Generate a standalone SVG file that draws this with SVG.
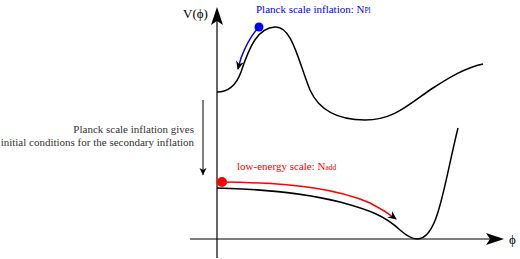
<svg xmlns="http://www.w3.org/2000/svg" width="520" height="259" viewBox="0 0 520 259">
<style>
text{font-family:"Liberation Serif","Times New Roman","DejaVu Serif",serif;}
.curve{fill:none;stroke:#000;stroke-width:1.5;}
.axis{fill:none;stroke:#000;stroke-width:1.2;}
</style>
<defs>
<marker id="redhead" markerWidth="10" markerHeight="8" refX="8" refY="4" orient="auto" markerUnits="userSpaceOnUse">
<path d="M0,0 L9,4 L0,8 L3,4 Z" fill="#000"/>
</marker>
<marker id="bluehead" markerWidth="10" markerHeight="8" refX="8" refY="4" orient="auto" markerUnits="userSpaceOnUse">
<path d="M0,0 L9,4 L0,8 L3,4 Z" fill="#000"/>
</marker>
<marker id="smallhead" markerWidth="8" markerHeight="8" refX="7" refY="4" orient="auto" markerUnits="userSpaceOnUse">
<path d="M0,0.5 L7,4 L0,7.5 L2,4 Z" fill="#000"/>
</marker>
</defs>
<g id="connectors">
<g id="v-axis">
<line class="axis" x1="217" y1="258" x2="217" y2="18"/>
<path d="M217,7 L223,25 L217,21 L211,25 Z" fill="#000"/>
</g>
<g id="h-axis">
<line class="axis" x1="190" y1="239" x2="494" y2="239"/>
<path d="M504,239 L486,233 L490,239 L486,245 Z" fill="#000"/>
</g>
<line x1="203" y1="100" x2="203" y2="175" stroke="#000" stroke-width="1" marker-end="url(#smallhead)"/>
<path d="M258,28 C249,38 244,50 241,58 C240,62 239,65 238,69" fill="none" stroke="#0000ff" stroke-width="1.5" marker-end="url(#bluehead)"/>
<path d="M222,182 C300,183 340,190 370,203 C380,208 388,213 396,219" fill="none" stroke="#ff0000" stroke-width="1.5" marker-end="url(#redhead)"/>
</g>
<g id="upper-curve">
<path class="curve" d="M217,92 C228,92 236,86 241,72 C250,45 258,28 275,27 C292,26 298,60 310,90 C320,112 340,120 365,120 C395,120 410,103 433,88 C450,77 465,68 483,64"/>
</g>
<g id="lower-curve">
<path class="curve" d="M217,188 C260,189 300,192 340,202 C370,210 385,216 400,230 C408,237 412,239 417,239 C425,239 432,232 438,212 C445,190 450,160 458,128"/>
</g>
<g id="planck-point">
<circle cx="259" cy="27" r="4.5" fill="#0000ff"/>
<text x="256" y="13" font-size="11" fill="#0000ff">Planck scale inflation: N<tspan font-size="7.5">Pl</tspan></text>
</g>
<g id="low-energy-point">
<circle cx="222" cy="182" r="5" fill="#ff0000"/>
<text x="237" y="170" font-size="11" fill="#ff0000">low-energy scale: N<tspan font-size="7.5">add</tspan></text>
</g>
<g id="labels">
<text x="183" y="18" font-size="13" fill="#000">V(ϕ)</text>
<text x="509" y="244" font-size="13" fill="#000">ϕ</text>
<text x="194" y="133" font-size="11" fill="#333" text-anchor="end">Planck scale inflation gives</text>
<text x="194" y="146" font-size="11" fill="#333" text-anchor="end">initial conditions for the secondary inflation</text>
</g>
</svg>
